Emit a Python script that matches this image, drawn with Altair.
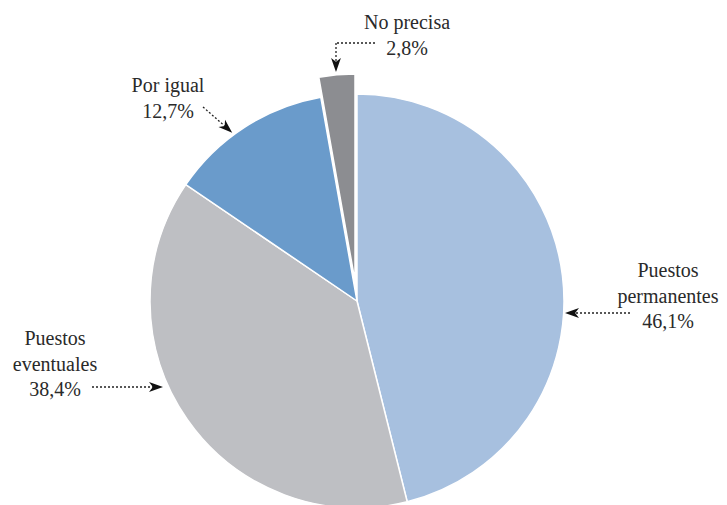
import altair as alt
import pandas as pd

# ---- data ----
categories = ["Puestos permanentes", "Puestos eventuales", "Por igual", "No precisa"]
shares = [46.1, 38.4, 12.7, 2.8]
colors = ["#a7c0df", "#bebfc3", "#6a9bcb", "#8c8d91"]
label_texts = [
    ["Puestos", "permanentes", "46,1%"],
    ["Puestos", "eventuales", "38,4%"],
    ["Por igual", "12,7%"],
    ["No precisa", "2,8%"],
]

pie = pd.DataFrame({"cat": categories, "share": shares, "order": list(range(len(categories)))})

# ---- annotation layout (pixel positions in the view) ----
label_anchor = [(660, 269), (47, 337), (160, 84), (399, 21)]
line_gap = 25.5
rows = []
for lines, (ax, ay) in zip(label_texts, label_anchor):
    for i, t in enumerate(lines):
        rows.append({"t": t, "x": ax, "y": ay + i * line_gap})
labels = pd.DataFrame(rows)

segments = pd.DataFrame({
    "x": [622, 84, 195, 367, 328],
    "y": [305, 379, 99, 35, 35],
    "x2": [565, 148, 219, 328, 328],
    "y2": [305, 379, 120, 35, 57],
})
heads = pd.DataFrame({
    "x": [564, 148, 219, 328],
    "y": [305, 379, 120, 57],
    "a": [180, 0, 42, 90],
})

cx, cy, R = 349, 293, 207
color_scale = alt.Scale(domain=categories, range=colors)

base = alt.Chart(pie).encode(
    theta=alt.Theta("share:Q", stack=True),
    order=alt.Order("order:Q"),
    color=alt.Color("cat:N", scale=color_scale, legend=None),
)

main = base.mark_arc(outerRadius=R, stroke="white", strokeWidth=1.5).encode(
    x=alt.value(cx), y=alt.value(cy),
    opacity=alt.condition(alt.datum.cat == "No precisa", alt.value(0), alt.value(1)),
)
exploded = base.mark_arc(outerRadius=R, stroke="white", strokeWidth=1.5).encode(
    x=alt.value(cx - 2), y=alt.value(cy - 20),
    opacity=alt.condition(alt.datum.cat == "No precisa", alt.value(1), alt.value(0)),
)

text = alt.Chart(labels).mark_text(
    font="'Liberation Serif', 'DejaVu Serif', serif", fontSize=20, color="#2a2a2a",
    align="center", baseline="alphabetic"
).encode(
    x=alt.X("x:Q", scale=None), y=alt.Y("y:Q", scale=None), text="t:N"
)

rules = alt.Chart(segments).mark_rule(color="#222", strokeWidth=1.3, strokeDash=[2, 2]).encode(
    x=alt.X("x:Q", scale=None), y=alt.Y("y:Q", scale=None),
    x2="x2:Q", y2="y2:Q",
)

arrow_shape = "M1,0 L-1,-0.7 L-0.45,0 L-1,0.7 Z"
arrowheads = alt.Chart(heads).mark_point(
    shape=arrow_shape, filled=True, color="#111", size=196, opacity=1
).encode(
    x=alt.X("x:Q", scale=None), y=alt.Y("y:Q", scale=None),
    angle=alt.Angle("a:Q", scale=None),
)

chart = alt.layer(main, exploded, rules, arrowheads, text).properties(
    width=711, height=497, padding=0, autosize=alt.AutoSizeParams(type="none")
).configure_view(stroke=None).resolve_scale(theta="shared")

chart.save("out.html", embed_options={"renderer": "svg", "actions": False})
